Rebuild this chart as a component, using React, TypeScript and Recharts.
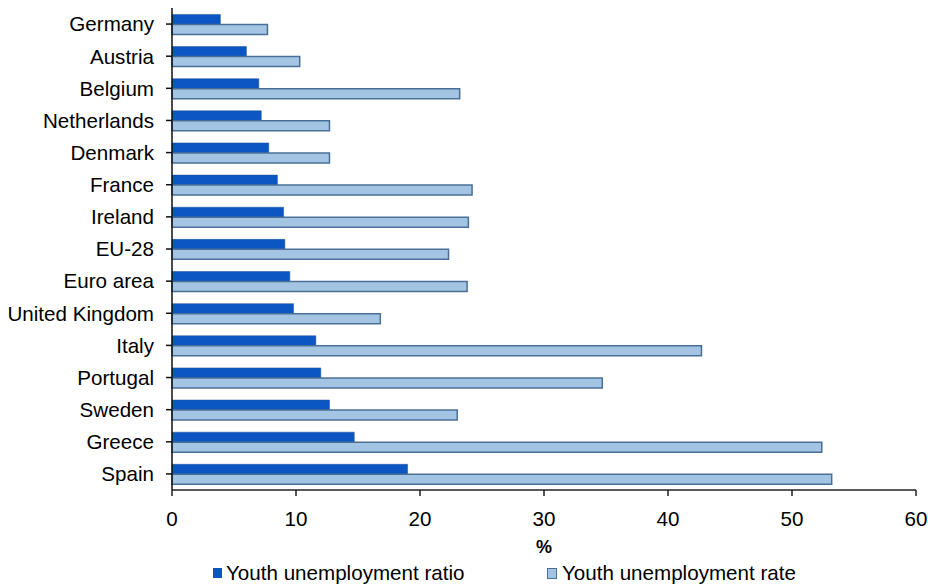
import { Bar, BarChart, Legend, XAxis, YAxis } from 'recharts'

const countries = [
  'Germany',
  'Austria',
  'Belgium',
  'Netherlands',
  'Denmark',
  'France',
  'Ireland',
  'EU-28',
  'Euro area',
  'United Kingdom',
  'Italy',
  'Portugal',
  'Sweden',
  'Greece',
  'Spain',
]

// youth unemployment ratio, % of population aged 15-24
const ratio = [3.9, 6.0, 7.0, 7.2, 7.8, 8.5, 9.0, 9.1, 9.5, 9.8, 11.6, 12.0, 12.7, 14.7, 19.0]

// youth unemployment rate, % of labour force aged 15-24
const rate = [7.7, 10.3, 23.2, 12.7, 12.7, 24.2, 23.9, 22.3, 23.8, 16.8, 42.7, 34.7, 23.0, 52.4, 53.2]

const xTicks = [0, 10, 20, 30, 40, 50, 60]

const DARK = '#0B56C2'
const LIGHT = '#A3C4E2'
const LIGHT_EDGE = '#4A7098'
const FONT = '"Liberation Sans", Arial, sans-serif'

const data = countries.map((country, i) => ({
  country,
  ratio: ratio[i],
  rate: rate[i],
}))

function LegendBox() {
  return (
    <div
      style={{
        height: 20,
        display: 'flex',
        alignItems: 'center',
        fontFamily: FONT,
        fontSize: 20.6,
        color: '#000',
        whiteSpace: 'nowrap',
      }}
    >
      <div style={{ marginLeft: 213, display: 'flex', alignItems: 'center', width: 334 }}>
        <span style={{ width: 9, height: 10, background: DARK, marginRight: 4 }} />
        <span>Youth unemployment ratio</span>
      </div>
      <div style={{ display: 'flex', alignItems: 'center' }}>
        <span
          style={{
            width: 8,
            height: 9,
            background: LIGHT,
            border: `1px solid ${LIGHT_EDGE}`,
            marginRight: 5,
          }}
        />
        <span>Youth unemployment rate</span>
      </div>
    </div>
  )
}

export default function App() {
  return (
    <div
      style={{
        position: 'absolute',
        top: 0,
        left: 0,
        width: 928,
        height: 585,
        overflow: 'hidden',
        background: '#fff',
      }}
    >
      <BarChart
        width={928}
        height={600}
        data={data}
        layout="vertical"
        margin={{ top: 8, right: 12, left: 0, bottom: 17 }}
        barCategoryGap="20%"
        barGap={0}
      >
        <XAxis
          type="number"
          domain={[0, 60]}
          ticks={xTicks}
          interval={0}
          height={73}
          tickSize={6}
          tickMargin={15}
          axisLine={{ stroke: '#222', strokeWidth: 1.5 }}
          tickLine={{ stroke: '#222', strokeWidth: 1.5 }}
          tick={{ fill: '#000', fontSize: 20.6, fontFamily: FONT }}
          label={{
            value: '%',
            position: 'insideBottom',
            offset: 10,
            fill: '#000',
            fontSize: 18,
            fontWeight: 'bold',
            fontFamily: FONT,
          }}
        />
        <YAxis
          type="category"
          dataKey="country"
          width={172}
          interval={0}
          tickSize={6}
          tickMargin={12}
          axisLine={{ stroke: '#111', strokeWidth: 1.5 }}
          tickLine={{ stroke: '#111', strokeWidth: 1.5 }}
          tick={{ fill: '#000', fontSize: 20.6, fontFamily: FONT }}
        />
        <Legend verticalAlign="bottom" content={() => <LegendBox />} />
        <Bar dataKey="ratio" fill={DARK} stroke="#1E4E96" strokeWidth={0.5} isAnimationActive={false} />
        <Bar dataKey="rate" fill={LIGHT} stroke={LIGHT_EDGE} strokeWidth={1.5} isAnimationActive={false} />
      </BarChart>
    </div>
  )
}
